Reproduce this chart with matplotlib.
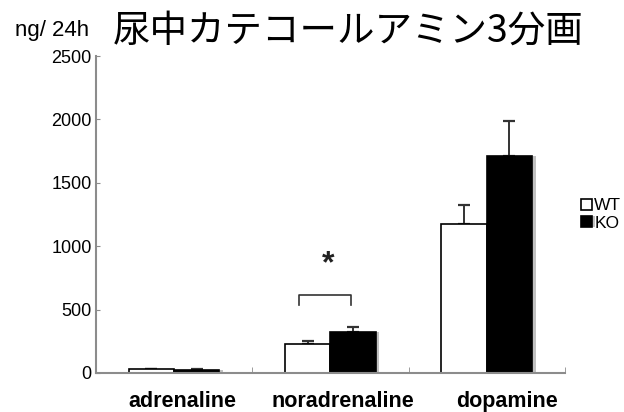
import numpy as np
import matplotlib
matplotlib.use("Agg")
import matplotlib.pyplot as plt
import matplotlib.patheffects as pe

# values (ng / 24h)
categories = ["adrenaline", "noradrenaline", "dopamine"]
wt_mean = [30, 226, 1175]
wt_err = [0, 29, 147]
ko_mean = [20, 326, 1711]
ko_err = [15, 39, 276]
yticks = [0, 500, 1000, 1500, 2000, 2500]

# significance bracket over noradrenaline
sig_cat = 1
sig_low, sig_high = 536, 615
sig_star_y = 855

# labels in the original sit a bit right of the bar groups
label_shift = [0.05, 0.08, 0.13]

plt.rcParams['font.family'] = ['Liberation Sans', 'DejaVu Sans']

fig = plt.figure(figsize=(6.24, 4.12), dpi=100)
ax = fig.add_axes([0.1538, 0.0947, 0.7516, 0.7693])

x = np.arange(len(categories))
w = 0.29
grey = '#8c8c8c'

ax.bar(x - w / 2, wt_mean, w, color='white', edgecolor='black', linewidth=1.2,
       label='WT', zorder=2)
ko = ax.bar(x + w / 2, ko_mean, w, color='black', edgecolor='black', linewidth=1.2,
            label='KO', zorder=2)
for b in ko:
    b.set_path_effects([pe.SimplePatchShadow(offset=(2.5, 0), shadow_rgbFace='#999999', alpha=0.6),
                        pe.Normal()])

ax.errorbar(x - w / 2, wt_mean, yerr=[np.zeros(3), wt_err], fmt='none',
            ecolor='#333333', elinewidth=1.4, capsize=4, capthick=1.6, zorder=1)
ax.errorbar(x + w / 2, ko_mean, yerr=[np.zeros(3), ko_err], fmt='none',
            ecolor='#333333', elinewidth=1.4, capsize=4, capthick=1.6, zorder=1)

# bracket + star
bl, br = sig_cat - 0.20, sig_cat + 0.13
ax.plot([bl, bl, br, br], [sig_low, sig_high, sig_high, sig_low], color='#333333', lw=1.2)
ax.text(sig_cat - 0.015, sig_star_y, '*', ha='center', va='center', fontsize=23,
        fontweight='bold', color='#222222')

ax.set_xlim(-0.5, 2.5)
ax.set_ylim(0, 2500)
ax.set_yticks(yticks)
ax.set_xticks(x + np.array(label_shift))
ax.set_xticklabels(categories, fontsize=15.5, fontweight='bold')
ax.set_xticks([0.5, 1.5, 2.5], minor=True)
ax.tick_params(axis='x', which='major', length=0, pad=13)
ax.tick_params(axis='x', which='minor', direction='in', length=4, color=grey)
ax.tick_params(axis='y', direction='in', length=3, color=grey, labelsize=13, pad=3)

for s in ['top', 'right']:
    ax.spines[s].set_visible(False)
for s in ['left', 'bottom']:
    ax.spines[s].set_color(grey)
    ax.spines[s].set_linewidth(1.5)

ax.legend(loc='center left', bbox_to_anchor=(1.02, 0.5), frameon=False, fontsize=12.5,
          handlelength=0.6, handleheight=0.6, handletextpad=0.15, labelspacing=0.15,
          borderaxespad=0)

fig.text(0.024, 0.925, 'ng/ 24h', fontsize=16, va='center', ha='left')
fig.text(0.181, 0.925, '尿中カテコールアミン3分画', fontsize=27, va='center', ha='left',
         family=['Noto Sans CJK JP', 'DejaVu Sans'])

fig.savefig('out.png', dpi=100)
